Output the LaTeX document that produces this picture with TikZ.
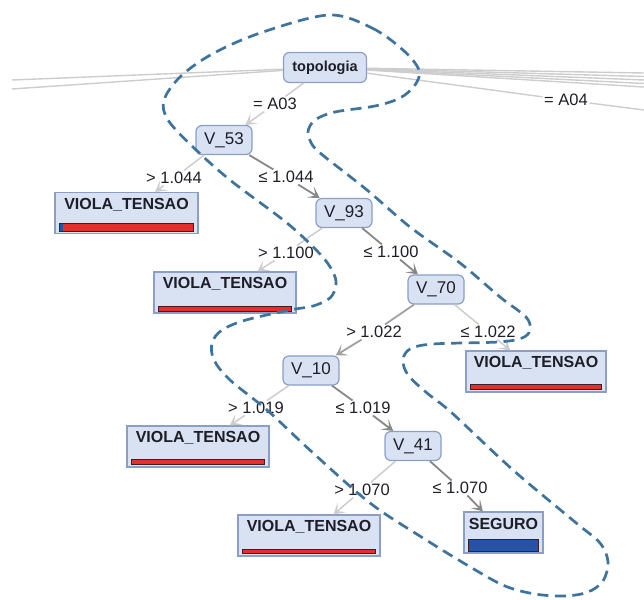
\documentclass[tikz,border=0pt]{standalone}
\usepackage{fontspec}
\setmainfont{Liberation Sans}
\usetikzlibrary{arrows.meta,calc}
\definecolor{nodefill}{RGB}{217,226,242}
\definecolor{nodeline}{RGB}{138,158,198}
\definecolor{lightedge}{RGB}{205,205,205}
\definecolor{midedge}{RGB}{160,160,160}
\definecolor{darkedge}{RGB}{135,135,135}
\definecolor{barred}{RGB}{232,46,42}
\definecolor{barblue}{RGB}{38,82,170}
\definecolor{barline}{RGB}{60,30,35}
\definecolor{outlinecol}{RGB}{62,115,158}
\definecolor{txt}{RGB}{30,30,40}
\newcommand{\leafnode}[8]{%
  \node[leafbox,minimum width=#4pt,minimum height=41pt] (#1) at (#2,#3) {};
  \node[leaftxt] (#1t) at ($(#1.north)+(0,12.5)$) {#5};
  \draw[barst,fill=#8] ($(#1.south west)+(5,-#6)$) rectangle ($(#1.south east)+(-5,-#7)$);
}
\begin{document}
\begin{tikzpicture}[x=1pt,y=-1pt,
  dec/.style={draw=nodeline,fill=nodefill,rounded corners=6pt,line width=1.2pt,text=txt,
    inner sep=0pt,minimum width=56pt,minimum height=29pt,font=\fontsize{17}{19}\selectfont},
  leafbox/.style={draw=nodeline,fill=nodefill,line width=1.2pt,inner sep=0pt},
  leaftxt/.style={font=\bfseries\fontsize{16}{18}\selectfont,inner sep=0pt,text=txt},
  lab/.style={font=\fontsize{16.5}{18}\selectfont,inner sep=1.5pt,text=txt},
  barst/.style={draw=barline,line width=0.8pt},
  ledge/.style={draw=lightedge,line width=1.5pt},
  medge/.style={draw=midedge,line width=1.8pt},
  dedge/.style={draw=darkedge,line width=1.8pt},
  tip/.style={-{Stealth[length=11pt,width=13pt,inset=6pt]}},
  outl/.style={draw=outlinecol,line width=2.7pt,dash pattern=on 11pt off 6.5pt}
]
\useasboundingbox (0,0) rectangle (644,599);

% decision nodes
\node[dec,minimum width=83pt,minimum height=30pt,font=\bfseries\fontsize{14.5}{17}\selectfont] (top) at (325,67.5) {topologia};
\node[dec] (V53) at (224,140) {V\_53};
\node[dec] (V93) at (344,213) {V\_93};
\node[dec] (V70) at (436,289.5) {V\_70};
\node[dec] (V10) at (311,370.5) {V\_10};
\node[dec] (V41) at (413,446) {V\_41};

% leaves
\leafnode{L1}{126.5}{213}{143}{VIOLA\_TENSAO}{3}{11}{barred}
\fill[barblue] ($(L1.south west)+(5.4,-3.4)$) rectangle ($(L1.south west)+(9,-10.6)$);
\leafnode{L2}{225}{292.5}{142}{VIOLA\_TENSAO}{2.5}{7}{barred}
\leafnode{L3}{536}{371.5}{140}{VIOLA\_TENSAO}{3}{8}{barred}
\leafnode{L4}{198}{446.5}{142}{VIOLA\_TENSAO}{3}{8}{barred}
\leafnode{L5}{309}{535.5}{142}{VIOLA\_TENSAO}{3}{7.5}{barred}
\leafnode{S}{503.5}{532.5}{79}{SEGURO}{2.5}{14}{barblue}

% edge labels
\node[lab] (lA03) at (275,104) {= A03};
\node[lab] (lA04) at (566,100) {= A04};
\node[lab] (g1044) at (174,178) {> 1.044};
\node[lab] (le1044) at (286,177) {≤ 1.044};
\node[lab] (g1100) at (286,253) {> 1.100};
\node[lab] (le1100) at (391,252) {≤ 1.100};
\node[lab] (g1022) at (374,332) {> 1.022};
\node[lab] (le1022) at (488,332) {≤ 1.022};
\node[lab] (g1019) at (256,408) {> 1.019};
\node[lab] (le1019) at (363,408) {≤ 1.019};
\node[lab] (g1070) at (362,490) {> 1.070};
\node[lab] (le1070) at (460,488) {≤ 1.070};

% off-picture branches of the root
\coordinate (lt1) at (12,80);
\coordinate (lt2) at (12,89);
\coordinate (rt1) at (644,73);
\coordinate (rt2) at (644,76.5);
\coordinate (rt3) at (644,80);
\coordinate (rt4) at (644,83.5);
\coordinate (rt5) at (644,87);
\coordinate (rA04) at (644,110);
\foreach \c in {lt1,lt2,rt1,rt2,rt3,rt4,rt5}
  \draw[ledge,line width=1.4pt] (top) -- (\c);
\draw[ledge,line width=1.4pt] (top) -- (lA04);
\draw[ledge,line width=1.4pt] (lA04) -- (rA04);

% edges
\draw[ledge] (top) -- (lA03);   \draw[ledge,tip] (lA03) -- (V53);
\draw[ledge] (V53) -- (g1044);  \draw[ledge,tip] (g1044) -- (L1);
\draw[dedge] (V53) -- (le1044); \draw[dedge,tip] (le1044) -- (V93);
\draw[ledge] (V93) -- (g1100);  \draw[ledge,tip] (g1100) -- (L2);
\draw[dedge] (V93) -- (le1100); \draw[dedge,tip] (le1100) -- (V70);
\draw[medge] (V70) -- (g1022);  \draw[medge,tip] (g1022) -- (V10);
\draw[ledge] (V70) -- (le1022); \draw[ledge,tip] (le1022) -- (L3);
\draw[ledge] (V10) -- (g1019);  \draw[ledge,tip] (g1019) -- (L4);
\draw[dedge] (V10) -- (le1019); \draw[dedge,tip] (le1019) -- (V41);
\draw[ledge] (V41) -- (g1070);  \draw[ledge,tip] (g1070) -- (L5);
\draw[dedge] (V41) -- (le1070); \draw[dedge,tip] (le1070) -- (S);

% dashed outline
\draw[outl] plot[smooth cycle,tension=0.55] coordinates {
 (329,15) (372,28) (403,50) (419,70) (415,85) (400,98) (375,106) (335,112)
 (315,120) (308,132) (313,146) (325,157) (367,190) (410,227) (460,263)
 (500,297) (526,317) (530,330) (522,338) (498,342) (433,344) (410,349)
 (403,360) (408,375) (427,393) (452,413) (513,470) (575,522) (600,543)
 (608,562) (603,581) (588,592) (565,596) (535,594) (505,586) (472,568)
 (423,538) (370,503) (312,452) (267,410) (230,380) (214,360) (212,343)
 (222,330) (246,320) (290,310) (313,306) (330,298) (336,285) (333,272)
 (320,254) (287,223) (230,180) (193,147) (168,120) (164,100) (181,76)
 (214,53) (263,32)};
\end{tikzpicture}
\end{document}
